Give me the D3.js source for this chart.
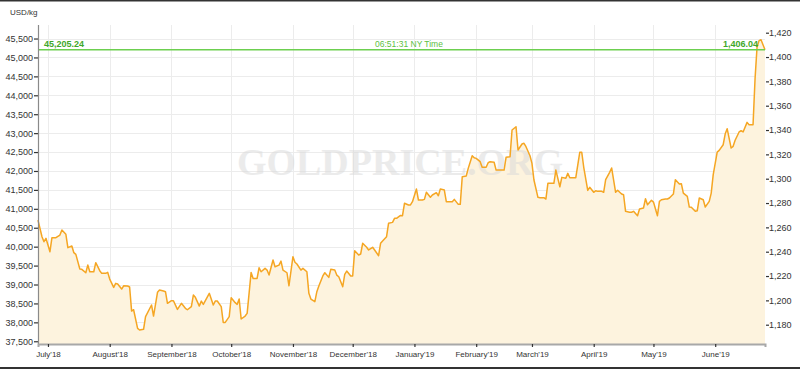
<!DOCTYPE html>
<html><head><meta charset="utf-8">
<script src="https://cdn.jsdelivr.net/npm/d3@7"></script>
<style>
body{margin:0;background:#fff;}
svg{display:block;font-family:"Liberation Sans",Arial,sans-serif;}
</style>
</head><body>
<svg id="chart" width="800" height="369"></svg>
<script>
// ---- data ----
const baseDate = "2018-07-01";           // day 0
const domainDays = [-5, 360];            // visible range in days from baseDate
// day offsets from baseDate of each price sample
const dayOffsets = [-5,-3,-2,-1,1,2,4,6,7,9,10,12,13,14,16,17,19,20,21,23,24,26,27,29,30,31,33,34,35,37,38,40,41,42,43,45,46,48,49,52,53,55,56,58,59,60,62,63,65,67,69,70,72,73,74,76,77,78,81,83,84,85,87,88,89,91,92,94,95,96,97,99,100,102,103,105,106,107,109,110,111,113,114,116,117,118,120,121,123,124,125,127,128,130,131,132,134,135,136,138,139,141,142,144,145,146,148,149,150,152,153,154,156,157,158,160,161,163,164,166,167,168,170,171,173,174,175,177,178,179,181,182,183,185,186,188,189,190,192,193,195,196,197,199,200,202,203,204,206,207,208,210,211,213,214,215,217,218,220,221,222,224,225,227,229,230,232,233,235,236,238,239,240,242,243,244,246,247,249,250,251,253,254,255,257,258,260,261,262,264,265,267,268,269,271,272,274,275,276,278,279,280,282,283,285,286,288,289,290,292,293,294,296,297,299,300,301,303,304,306,307,308,310,311,312,314,315,317,318,319,321,322,323,325,326,327,329,330,332,333,334,336,337,339,340,341,343,344,345,347,348,349,351,352,354,355,356,357,358,360];
// gold price, USD per troy ounce
const usdPerOz = [1266,1252.3,1248.2,1251,1240,1251.5,1251.5,1253.7,1257.8,1254.3,1243.3,1244.7,1239.2,1237.8,1225.8,1225.5,1222.7,1229,1223.5,1223.5,1231,1224.4,1222.2,1222.2,1223,1217.5,1210.7,1214,1213.4,1209.3,1212,1211.8,1211,1191.2,1192.3,1177,1175.6,1176.2,1186.6,1196.2,1187.1,1206.6,1208.5,1207.7,1207.1,1197.6,1199.7,1199.7,1192.6,1197.6,1193.5,1192.3,1194.8,1204.4,1202.5,1195.3,1199.4,1196.7,1205.8,1196.2,1199.4,1199.5,1194.8,1181.9,1181.9,1186.6,1202.2,1198.1,1196.7,1201.1,1184.7,1187.1,1189.3,1223,1218,1218,1226.8,1223.5,1226.3,1224.9,1220.8,1233.2,1227.6,1229,1232.3,1224.9,1222.7,1212,1235.9,1231.3,1229.9,1224.9,1226.3,1223.5,1205.8,1201.1,1198.9,1207.1,1211.8,1220.1,1222.7,1218.9,1225.5,1224.9,1220.8,1219.4,1211.2,1221.4,1224.1,1220.1,1220.1,1240.8,1237.3,1238.1,1246.9,1243.6,1241.4,1243.6,1241.4,1236.7,1246.9,1248.8,1252.3,1263.3,1264.1,1267.4,1267.4,1269.8,1269.6,1279.8,1278.4,1278.4,1281.1,1291.5,1282.5,1282.5,1283,1288.8,1284.7,1286.6,1288.5,1286,1291.5,1290.7,1281.1,1281.1,1281.1,1283,1278.9,1278.9,1301.6,1302.2,1308.5,1318.9,1317.2,1316.7,1314,1309.4,1309.4,1313.1,1314,1313.5,1307.1,1307.1,1307.1,1317.6,1318.1,1340,1342.7,1323.6,1328.5,1329.1,1326.3,1318.9,1312.6,1298.9,1284.7,1284.4,1284.4,1283.3,1296.2,1296.2,1296.2,1307.1,1293.4,1301.1,1300.3,1304.4,1300.8,1300.8,1300.8,1321.7,1321.7,1309.4,1290.4,1292.9,1288.8,1290.1,1289.6,1289.6,1288.8,1299.2,1305.2,1308.8,1288.8,1290.5,1287.4,1286.8,1273.2,1272.4,1272.4,1273.2,1269.6,1275.1,1275.9,1283.6,1278.6,1282.2,1280.8,1269.6,1281.4,1282.7,1283.3,1283.3,1284.1,1287.4,1299.2,1295.6,1295.9,1288.2,1285.5,1276.7,1276.5,1273.2,1273.7,1284.1,1282.7,1276.7,1281.4,1288.2,1303.3,1321.9,1323.3,1327.9,1336.7,1341.1,1325.2,1326.6,1331.6,1338.4,1339.4,1338.4,1346.3,1344.4,1344.4,1382,1408,1413.5,1414.2,1406.04];

const monthTickDates = ["2018-07-01","2018-08-01","2018-09-01","2018-10-01","2018-11-01","2018-12-01","2019-01-01","2019-02-01","2019-03-01","2019-04-01","2019-05-01","2019-06-01"];
const monthTickLabels = ["July'18","August'18","September'18","October'18","November'18","December'18","January'19","February'19","March'19","April'19","May'19","June'19"];
const kgTicks = [37500,38000,38500,39000,39500,40000,40500,41000,41500,42000,42500,43000,43500,44000,44500,45000,45500];
const ozTicks = [1180,1200,1220,1240,1260,1280,1300,1320,1340,1360,1380,1400,1420];
const ozDomain = [1180, 1420];
const OZ_PER_KG = 32.1507;
const lastOz = 1406.04;
const lastKgLabel = "45,205.24";
const lastOzLabel = "1,406.04";
const timeLabel = "06:51:31 NY Time";
const unitLabel = "USD/kg";
const watermark = "GOLDPRICE.ORG";

// ---- layout ----
const L = 38, R = 765, T = 25, B = 344;
const yTop = 32.7, yBot = 324.7;

const parse = d3.utcParse("%Y-%m-%d");
const base = parse(baseDate);
const svg = d3.select("#chart");

const x = d3.scaleUtc()
  .domain(domainDays.map(d => d3.utcDay.offset(base, d)))
  .range([L, R]);
const yOz = d3.scaleLinear().domain(ozDomain).range([yBot, yTop]);
const yKg = d3.scaleLinear().domain(ozDomain.map(v => v * OZ_PER_KG)).range([yBot, yTop]);

const data = dayOffsets.map((d, i) => ({date: d3.utcDay.offset(base, d), v: usdPerOz[i]}));
const tickDates = monthTickDates.map(parse);

// top/bottom frame bars
svg.append("rect").attr("x",0).attr("y",0).attr("width",800).attr("height",1.5).attr("fill","#333");
svg.append("rect").attr("x",0).attr("y",367).attr("width",800).attr("height",2).attr("fill","#333");

// gridlines
svg.append("g").selectAll("line").data(kgTicks).join("line")
  .attr("x1", L).attr("x2", R)
  .attr("y1", d => Math.round(yKg(d)) + 0.5).attr("y2", d => Math.round(yKg(d)) + 0.5)
  .attr("stroke", "#ececec").attr("stroke-width", 1);
svg.append("g").selectAll("line").data(tickDates).join("line")
  .attr("x1", d => Math.round(x(d)) + 0.5).attr("x2", d => Math.round(x(d)) + 0.5)
  .attr("y1", T).attr("y2", B)
  .attr("stroke", "#ececec").attr("stroke-width", 1);

// area
const area = d3.area().x(d => x(d.date)).y0(B).y1(d => yOz(d.v)).curve(d3.curveLinear);
svg.append("path").datum(data).attr("d", area).attr("fill", "#fdf3de");

// watermark
svg.append("text").attr("x", 400).attr("y", 175).attr("text-anchor", "middle")
  .attr("font-family", "'Liberation Serif', 'DejaVu Serif', serif").attr("font-weight", "bold")
  .attr("font-size", 38).attr("fill", "#d9d9d9").attr("opacity", 0.5).text(watermark);

// price line
const line = d3.line().x(d => x(d.date)).y(d => yOz(d.v));
svg.append("path").datum(data).attr("d", line).attr("fill", "none")
  .attr("stroke", "#f5a623").attr("stroke-width", 1.5).attr("stroke-linejoin", "round");

// current price line
const yLast = yOz(lastOz);
svg.append("line").attr("x1", L).attr("x2", R).attr("y1", yLast).attr("y2", yLast)
  .attr("stroke", "#6ccf4f").attr("stroke-width", 1.5);
svg.append("text").attr("x", 44).attr("y", yLast - 2.5).attr("font-size", 9).attr("font-weight", "bold")
  .attr("fill", "#3fa82a").text(lastKgLabel);
svg.append("text").attr("x", 758).attr("y", yLast - 2.5).attr("text-anchor", "end").attr("font-size", 9)
  .attr("font-weight", "bold").attr("fill", "#3fa82a").text(lastOzLabel);
svg.append("text").attr("x", 409).attr("y", yLast - 2.5).attr("text-anchor", "middle").attr("font-size", 8.5)
  .attr("fill", "#5cbf45").text(timeLabel);

// left axis
const gl = svg.append("g").attr("transform", `translate(${L},0)`)
  .call(d3.axisLeft(yKg).tickValues(kgTicks).tickSize(4).tickPadding(1).tickFormat(d3.format(",")));
gl.select(".domain").remove();
gl.selectAll(".tick line").attr("stroke", "#333").attr("stroke-width", 1.2);
gl.selectAll("text").attr("font-size", 9).attr("fill", "#333").attr("font-family", null);
svg.append("line").attr("x1", L + 0.5).attr("x2", L + 0.5).attr("y1", T).attr("y2", B)
  .attr("stroke", "#8a8a8a").attr("stroke-width", 1.2);

// right axis
const gr = svg.append("g").attr("transform", `translate(${R},0)`)
  .call(d3.axisRight(yOz).tickValues(ozTicks).tickSize(3).tickPadding(1).tickFormat(d3.format(",")));
gr.select(".domain").remove();
gr.selectAll(".tick line").attr("stroke", "#333").attr("stroke-width", 1.2).attr("transform", "translate(1,0)");
gr.selectAll("text").attr("font-size", 9).attr("fill", "#333").attr("font-family", null);

// bottom axis
const gb = svg.append("g").attr("transform", `translate(0,${B})`)
  .call(d3.axisBottom(x).tickValues(tickDates).tickSize(3).tickPadding(4)
    .tickFormat((d, i) => monthTickLabels[i]));
gb.select(".domain").attr("stroke", "#a8a8a8").attr("stroke-width", 2);
gb.selectAll(".tick line").attr("stroke", "#333").attr("stroke-width", 1.2);
gb.selectAll("text").attr("font-size", 8).attr("fill", "#333").attr("font-family", null);

// unit label
svg.append("text").attr("x", 10).attr("y", 14.5).attr("font-size", 8).attr("fill", "#333").text(unitLabel);
</script>
</body></html>
